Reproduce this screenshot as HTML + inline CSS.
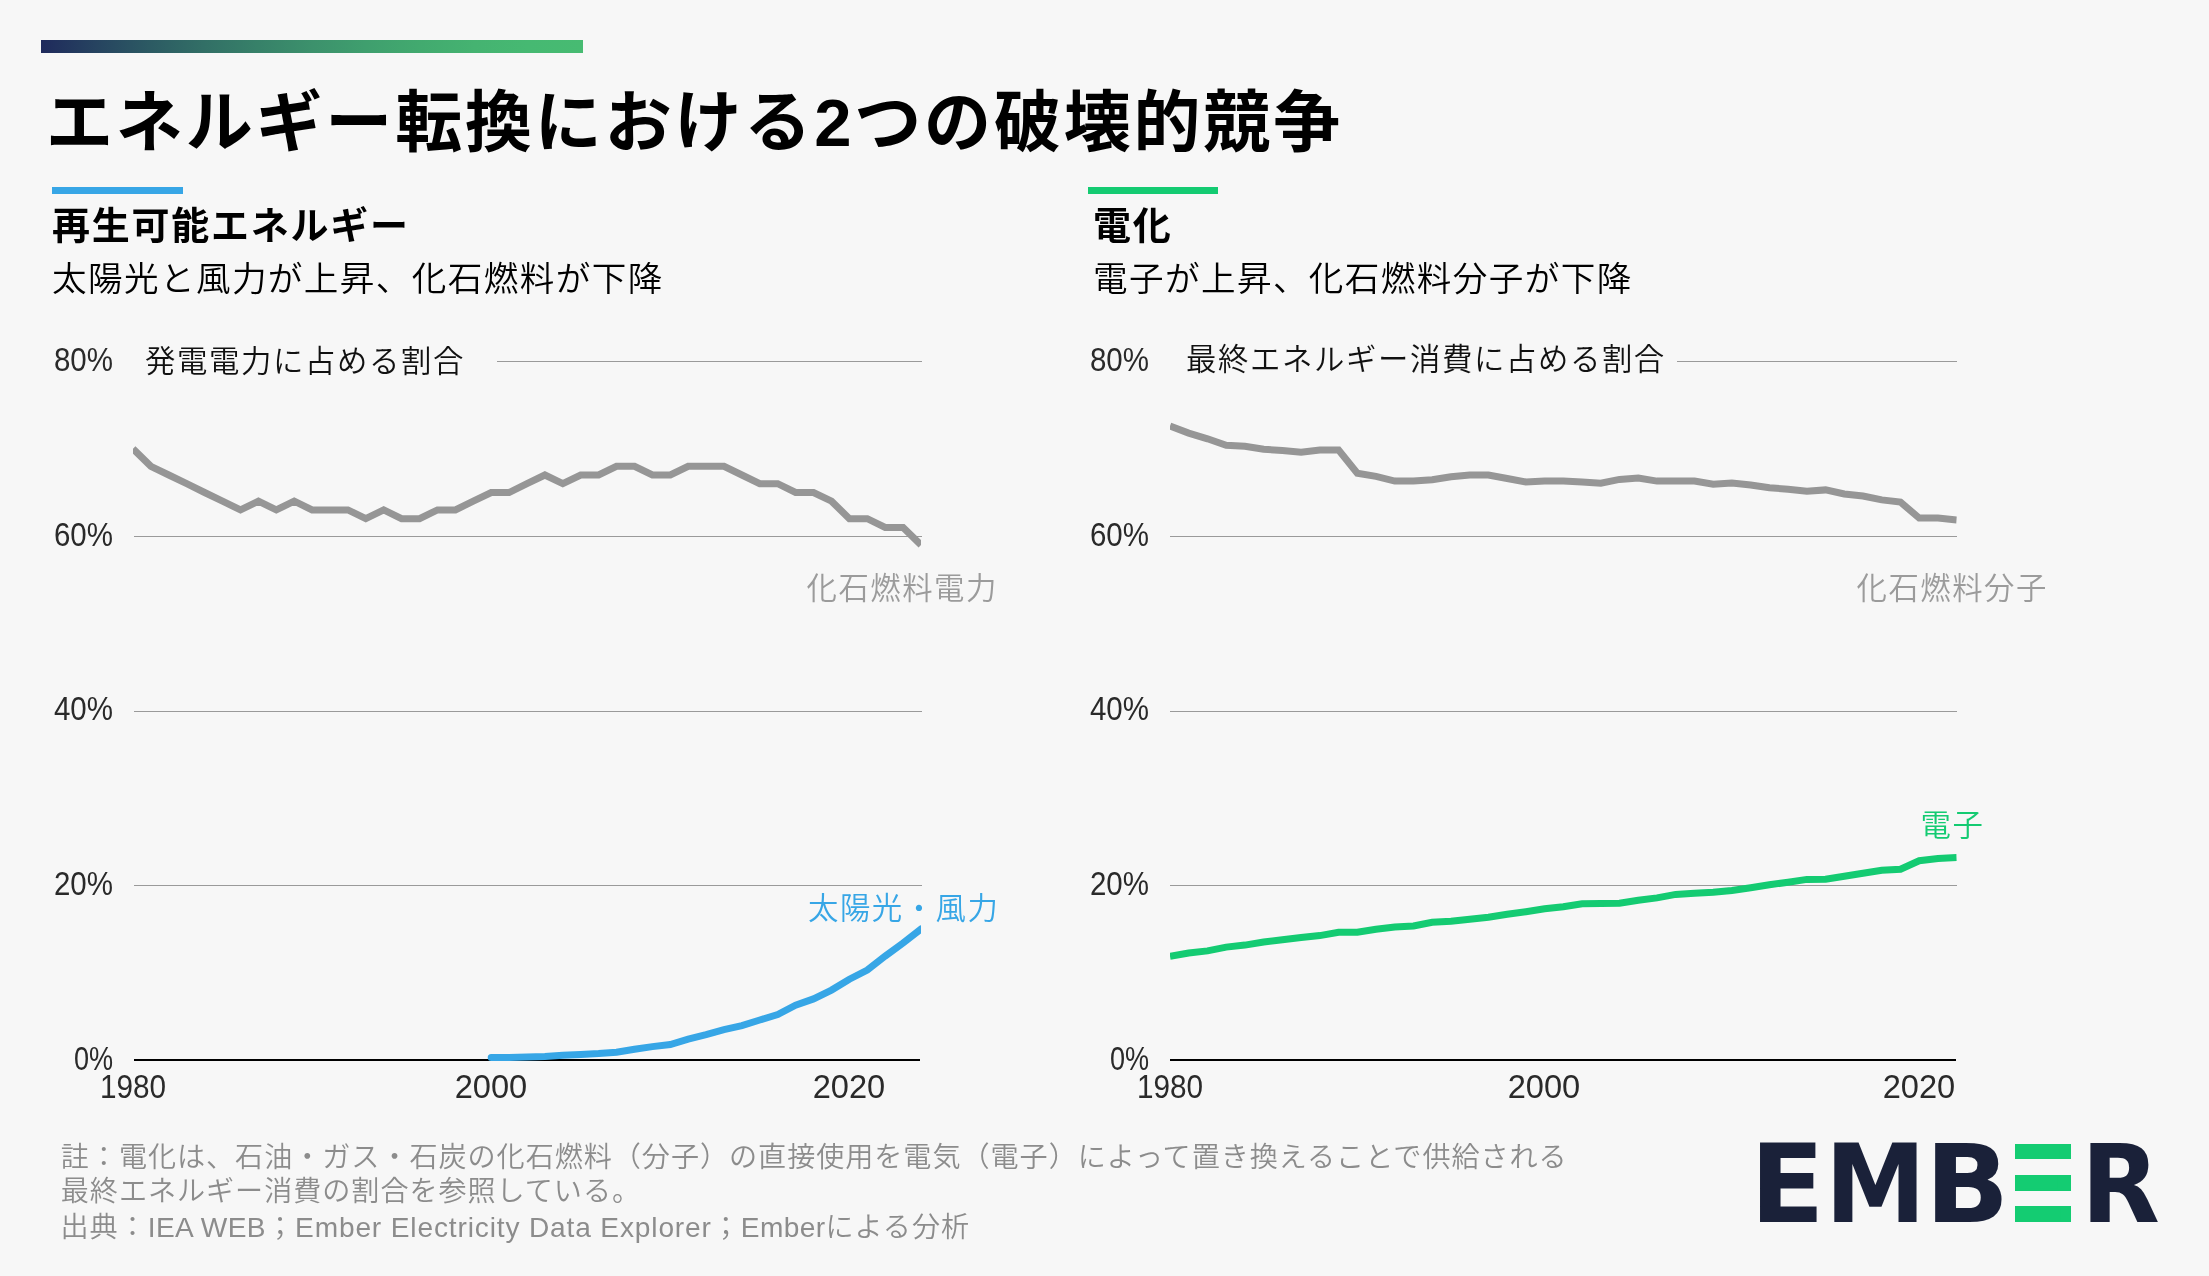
<!DOCTYPE html>
<html lang="ja">
<head>
<meta charset="utf-8">
<title>エネルギー転換における2つの破壊的競争</title>
<style>
html,body{margin:0;padding:0;}
body{width:2209px;height:1276px;background:#f7f7f7;position:relative;overflow:hidden;
  font-family:"Liberation Sans","Noto Sans CJK JP",sans-serif;color:#000;}
.abs{position:absolute;white-space:nowrap;line-height:1;}
.jp{font-family:"Liberation Sans","Noto Sans CJK JP",sans-serif;}
#topbar{position:absolute;left:41px;top:40px;width:542px;height:13px;
  background:linear-gradient(90deg,#1f2a5c 0%,#264360 10%,#2c5a63 20%,#326f66 30%,#378169 40%,#3c916c 50%,#3f9f6e 60%,#42aa6f 70%,#45b371 80%,#46b972 90%,#47bb72 100%);}
#title{left:46px;top:88.8px;font-size:67px;font-weight:700;letter-spacing:2.83px;}
.bar{position:absolute;height:7px;top:187px;width:131px;}
.sub{font-size:38px;font-weight:700;top:207.2px;letter-spacing:1.75px;}
.desc{font-size:34.6px;font-weight:350;top:261.5px;letter-spacing:1.4px;}
.ax{font-size:33px;font-weight:400;color:#2a2a2a;}
.ylab{text-align:right;width:80px;transform-origin:100% 50%;transform:scaleX(0.894);}
.xlab{text-align:center;width:120px;transform-origin:50% 50%;transform:scaleX(0.988);}
.clab{font-size:30.4px;font-weight:350;color:#111;letter-spacing:1.6px;}
.slab{font-size:30.4px;font-weight:350;letter-spacing:1.5px;}
.foot{left:60.8px;font-size:28.1px;line-height:1;color:#8c8c8c;font-weight:350;letter-spacing:0.96px;}
#wrap{position:absolute;left:0;top:0;width:2209px;height:1276px;will-change:transform;}
svg{position:absolute;left:0;top:0;}
.lg{position:absolute;top:1131px;font-family:"DejaVu Sans","Liberation Sans",sans-serif;font-weight:700;font-size:107.8px;line-height:1;color:#1a2139;transform-origin:0 0;white-space:nowrap;}
.gb{position:absolute;left:2014.9px;width:56.2px;height:15.5px;background:#14cc72;display:block;}
.lg.ge{color:#14cc72;clip-path:polygon(20.9px 13.9px,75.1px 13.9px,75.1px 27.4px,20.9px 27.4px,20.9px 45px,75.1px 45px,75.1px 58.5px,20.9px 58.5px,20.9px 76.2px,75.1px 76.2px,75.1px 89.7px,20.9px 89.7px);}
</style>
</head>
<body>
<div id="wrap">
<div id="topbar"></div>
<div id="title" class="abs jp">エネルギー転換における2つの破壊的競争</div>

<div class="bar" style="left:52px;background:#37a6e6;"></div>
<div class="bar" style="left:1087.5px;width:130.5px;background:#14cb72;"></div>
<div class="abs sub" style="left:52px;">再生可能エネルギー</div>
<div class="abs sub" style="left:1093px;">電化</div>
<div class="abs desc" style="left:52px;">太陽光と風力が上昇、化石燃料が下降</div>
<div class="abs desc" style="left:1093px;">電子が上昇、化石燃料分子が下降</div>

<svg width="2209" height="1276" viewBox="0 0 2209 1276">
  <defs>
    <clipPath id="cl"><rect x="133" y="300" width="788" height="800"/></clipPath>
    <clipPath id="cr"><rect x="1170" y="300" width="786.7" height="800"/></clipPath>
  </defs>
  <g fill="#9a9a9a" shape-rendering="crispEdges">
    <rect x="497" y="361" width="424.5" height="1"/>
    <rect x="134" y="536" width="787.5" height="1"/>
    <rect x="134" y="711" width="787.5" height="1"/>
    <rect x="134" y="885" width="787.5" height="1"/>
    <rect x="1677" y="361" width="280" height="1"/>
    <rect x="1170" y="536" width="787" height="1"/>
    <rect x="1170" y="711" width="787" height="1"/>
    <rect x="1170" y="885" width="787" height="1"/>
  </g>
  <g fill="#000" shape-rendering="crispEdges">
    <rect x="134" y="1059" width="786" height="2"/>
    <rect x="1170" y="1059" width="786" height="2"/>
  </g>
  <g fill="none" stroke-width="7" stroke-linejoin="miter">
    <polyline clip-path="url(#cl)" stroke="#969696" points="133.0,448.8 150.9,466.3 168.8,475.0 186.7,483.7 204.6,492.5 222.5,501.2 240.5,509.9 258.4,501.2 276.3,509.9 294.2,501.2 312.1,509.9 330.0,509.9 347.9,509.9 365.8,518.7 383.7,509.9 401.6,518.7 419.5,518.7 437.5,509.9 455.4,509.9 473.3,501.2 491.2,492.5 509.1,492.5 527.0,483.7 544.9,475.0 562.8,483.7 580.7,475.0 598.6,475.0 616.5,466.3 634.5,466.3 652.4,475.0 670.3,475.0 688.2,466.3 706.1,466.3 724.0,466.3 741.9,475.0 759.8,483.7 777.7,483.7 795.6,492.5 813.5,492.5 831.5,501.2 849.4,518.7 867.3,518.7 885.2,527.4 903.1,527.4 921.0,544.9"/>
    <polyline clip-path="url(#cl)" stroke="#37a6e6" stroke-linecap="round" points="491.2,1057.4 509.1,1057.4 527.0,1056.9 544.9,1056.5 562.8,1055.3 580.7,1054.5 598.6,1053.6 616.5,1052.3 634.5,1049.3 652.4,1046.6 670.3,1044.5 688.2,1039.1 706.1,1034.7 724.0,1029.6 741.9,1025.6 759.8,1020.0 777.7,1014.6 795.6,1005.2 813.5,998.9 831.5,990.1 849.4,979.2 867.3,970.1 885.2,956.1 903.1,943.0 921.0,929.0"/>
    <polyline clip-path="url(#cr)" stroke="#969696" points="1170.0,426.1 1188.7,433.1 1207.5,438.8 1226.2,445.3 1244.9,446.2 1263.7,449.2 1282.4,450.6 1301.1,452.3 1319.8,450.1 1338.6,450.1 1357.3,473.3 1376.0,476.4 1394.8,481.1 1413.5,481.1 1432.2,479.8 1451.0,476.8 1469.7,475.0 1488.4,475.0 1507.2,478.5 1525.9,482.0 1544.6,481.1 1563.3,481.1 1582.1,482.0 1600.8,483.2 1619.5,479.4 1638.3,478.0 1657.0,481.1 1675.7,481.1 1694.5,481.1 1713.2,484.2 1731.9,482.9 1750.7,485.0 1769.4,487.8 1788.1,489.2 1806.9,491.2 1825.6,489.9 1844.3,494.0 1863.0,496.0 1881.8,499.9 1900.5,502.1 1919.2,518.1 1938.0,518.1 1956.7,520.0"/>
    <polyline clip-path="url(#cr)" stroke="#14cb72" points="1170.0,956.3 1188.7,953.0 1207.5,950.9 1226.2,947.1 1244.9,945.1 1263.7,942.0 1282.4,939.7 1301.1,937.5 1319.8,935.6 1338.6,932.2 1357.3,932.2 1376.0,929.2 1394.8,927.0 1413.5,926.0 1432.2,922.2 1451.0,921.2 1469.7,919.3 1488.4,917.2 1507.2,914.3 1525.9,911.7 1544.6,908.8 1563.3,906.7 1582.1,903.7 1600.8,903.4 1619.5,903.3 1638.3,900.3 1657.0,897.9 1675.7,894.4 1694.5,893.2 1713.2,892.2 1731.9,890.4 1750.7,887.7 1769.4,884.8 1788.1,882.2 1806.9,879.4 1825.6,879.3 1844.3,876.2 1863.0,873.2 1881.8,870.3 1900.5,869.2 1919.2,860.7 1938.0,858.5 1956.7,857.5"/>
  </g>
</svg>

<!-- left chart labels -->
<div class="abs ax ylab" style="left:33px;top:343.4px;">80%</div>
<div class="abs ax ylab" style="left:33px;top:517.9px;">60%</div>
<div class="abs ax ylab" style="left:33px;top:692.4px;">40%</div>
<div class="abs ax ylab" style="left:33px;top:866.9px;">20%</div>
<div class="abs ax ylab" style="left:33px;top:1041.5px;transform:scaleX(0.82);">0%</div>
<div class="abs ax xlab" style="left:73.1px;top:1069.9px;transform:scaleX(0.9);">1980</div>
<div class="abs ax xlab" style="left:431.0px;top:1069.9px;">2000</div>
<div class="abs ax xlab" style="left:788.8px;top:1069.9px;">2020</div>
<div class="abs clab" style="left:145px;top:346px;">発電電力に占める割合</div>
<div class="abs slab" style="left:806.5px;top:572.5px;color:#9b9b9b;">化石燃料電力</div>
<div class="abs slab" style="left:808px;top:892.5px;color:#37a6e6;">太陽光・風力</div>

<!-- right chart labels -->
<div class="abs ax ylab" style="left:1069.4px;top:343.4px;">80%</div>
<div class="abs ax ylab" style="left:1069.4px;top:517.9px;">60%</div>
<div class="abs ax ylab" style="left:1069.4px;top:692.4px;">40%</div>
<div class="abs ax ylab" style="left:1069.4px;top:866.9px;">20%</div>
<div class="abs ax ylab" style="left:1069.4px;top:1041.5px;transform:scaleX(0.82);">0%</div>
<div class="abs ax xlab" style="left:1109.5px;top:1069.9px;transform:scaleX(0.9);">1980</div>
<div class="abs ax xlab" style="left:1484.0px;top:1069.9px;">2000</div>
<div class="abs ax xlab" style="left:1858.7px;top:1069.9px;">2020</div>
<div class="abs clab" style="left:1186px;top:344px;">最終エネルギー消費に占める割合</div>
<div class="abs slab" style="left:1856.5px;top:572.5px;color:#9b9b9b;">化石燃料分子</div>
<div class="abs slab" style="left:1920.5px;top:810px;color:#14cb72;">電子</div>

<div class="abs foot" style="top:1143.8px;">註：電化は、石油・ガス・石炭の化石燃料（分子）の直接使用を電気（電子）によって置き換えることで供給される</div>
<div class="abs foot" style="top:1178.1px;">最終エネルギー消費の割合を参照している。</div>
<div class="abs foot" style="top:1213.5px;left:60.5px;">出典：<span style="letter-spacing:0.4px">IEA WEB</span>；<span style="letter-spacing:0.85px">Ember Electricity Data Explorer</span>；<span style="letter-spacing:0.4px">Ember</span>による分析</div>

<!-- logo -->
<div id="logo">
  <span class="lg" style="left:1750.1px;transform:scaleX(1.013);">E</span>
  <span class="lg" style="left:1825.1px;transform:scaleX(0.94);">M</span>
  <span class="lg" style="left:1924.6px;transform:scaleX(1.026);">B</span>
  <i class="gb" style="top:1143.9px;"></i><i class="gb" style="top:1175px;"></i><i class="gb" style="top:1206.2px;"></i>
  <span class="lg ge" style="left:1995px;">E</span>
  <span class="lg" style="left:2080.8px;transform:scaleX(0.951);">R</span>
</div>
</div>
</body>
</html>
